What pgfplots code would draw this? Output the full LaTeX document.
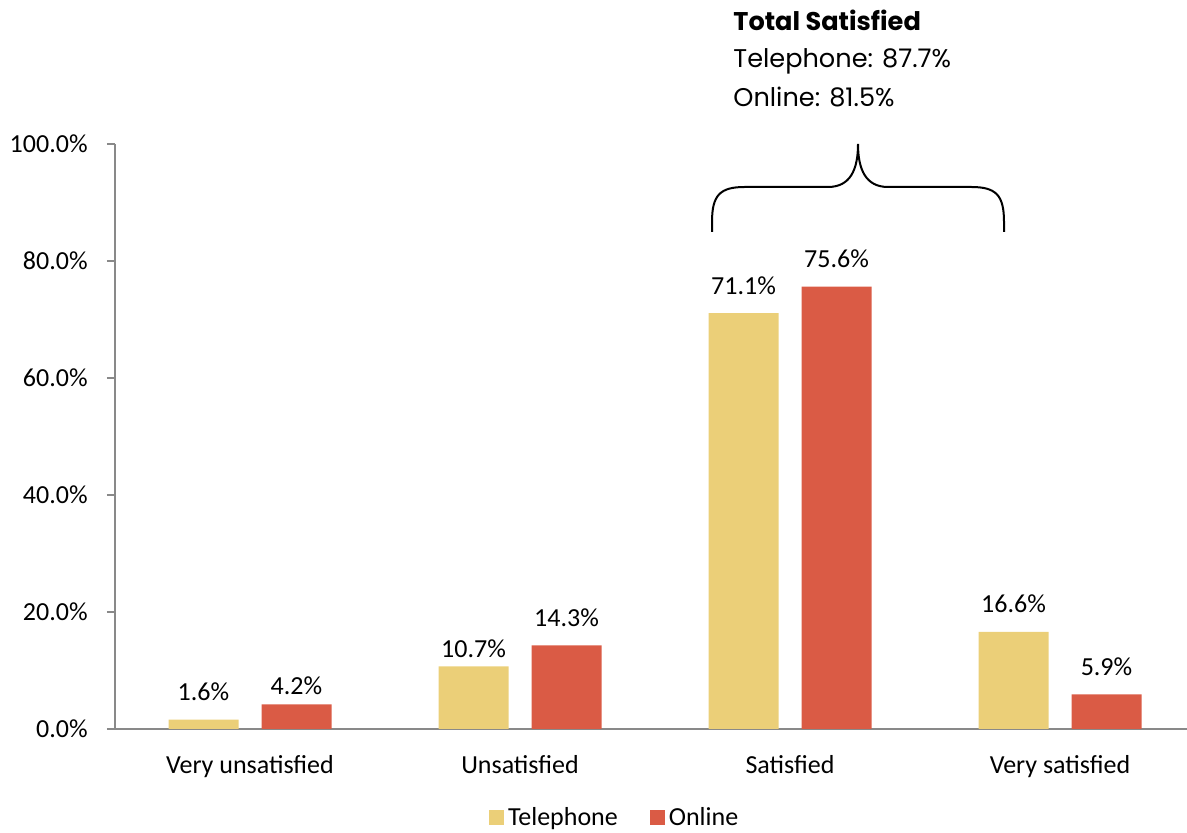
\documentclass[border=0pt]{standalone}
\usepackage{pgfplots}
\pgfplotsset{compat=1.18}
\usepackage{fontspec}
\setmainfont{Carlito}
\newfontfamily\gothic{Poppins}
\definecolor{tel}{HTML}{EBCF78}
\definecolor{onl}{HTML}{DA5B45}
\definecolor{axgray}{HTML}{898989}
\newcommand\lbl{\fontsize{13}{15.6}\selectfont}
\begin{document}
\begin{tikzpicture}
\useasboundingbox (0,0) rectangle (593.5pt,416.5pt);
\begin{axis}[
  at={(57.5pt,52pt)}, anchor=south west,
  scale only axis, width=536pt, height=292.5pt,
  xmin=-0.5, xmax=3.4704, ymin=0, ymax=100,
  axis x line=bottom, axis y line=left,
  axis line style={draw=axgray, line width=0.8pt, -},
  every tick/.style={draw=axgray, line width=0.8pt},
  ybar=11.5pt, bar width=35pt,
  xtick={0,1,2,3},
  xticklabels={Very unsatisfied,Unsatisfied,Satisfied,Very satisfied},
  x tick style={draw=none},
  major x tick style={draw=none},
  extra x ticks={-0.5,0.5,1.5,2.5},
  extra x tick labels={},
  extra x tick style={tick style={draw=axgray, line width=0.8pt}, major tick length=4pt, tick align=outside},
  xticklabel style={anchor=base, yshift=-18.5pt, font=\lbl},
  ytick={0,20,40,60,80,100},
  yticklabels={0.0\%,20.0\%,40.0\%,60.0\%,80.0\%,100.0\%},
  y tick style={draw=axgray, line width=0.8pt},
  major tick length=4pt, tick align=outside,
  yticklabel style={font=\lbl, anchor=east, inner sep=0pt, xshift=-9.5pt},
  /pgf/number format/assume math mode=true,
  nodes near coords={\pgfmathprintnumber[fixed,fixed zerofill,precision=1,assume math mode=true]{\pgfplotspointmeta}\%},
  nodes near coords style={font=\lbl, anchor=base, yshift=9.5pt, text=black},
  legend style={draw=none, font=\lbl, at={(0.467,-0.152)}, anchor=center, legend columns=-1,
    /tikz/every even column/.append style={column sep=14pt}},
  legend image code/.code={\fill[#1] (0pt,-3.75pt) rectangle (7.5pt,3.75pt);},
  clip=false,
]
\addplot[fill=tel, draw=none, coordinate style/.condition={abs(x-1)<0.1}{yshift=-5pt}] coordinates {(0,1.6) (1,10.7) (2,71.1) (3,16.6)};
\addplot[fill=onl, draw=none, coordinate style/.condition={abs(x)<0.1}{yshift=-4.5pt}] coordinates {(0,4.2) (1,14.3) (2,75.6) (3,5.9)};
\legend{Telephone,Online}
\end{axis}
\draw[line width=1pt] (356pt,300.5pt) -- (356pt,305.5pt) .. controls (356pt,319pt) and (360pt,323pt) .. (372.5pt,323pt) -- (414pt,323pt) .. controls (425pt,323pt) and (429pt,331.5pt) .. (429pt,344.5pt) .. controls (429pt,331.5pt) and (433pt,323pt) .. (444pt,323pt) -- (485.5pt,323pt) .. controls (498pt,323pt) and (502pt,319pt) .. (502pt,305.5pt) -- (502pt,300.5pt);
\node[anchor=base west, inner sep=0pt, font={\gothic\bfseries\fontsize{12.8}{15}\selectfont}] at (366.5pt,401pt) {Total Satisfied};
\node[anchor=base west, inner sep=0pt, font={\gothic\fontsize{12.8}{15}\selectfont}] at (366.5pt,382.5pt) {Telephone: 87.7\%};
\node[anchor=base west, inner sep=0pt, font={\gothic\fontsize{12.8}{15}\selectfont}] at (366.5pt,363pt) {Online: 81.5\%};
\end{tikzpicture}
\end{document}
